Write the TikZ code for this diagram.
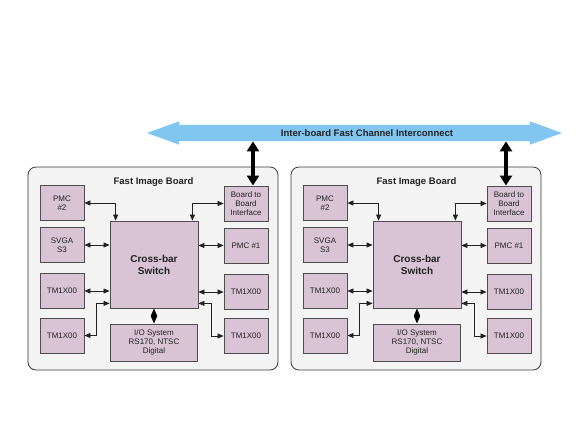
\documentclass[tikz,border=0pt]{standalone}
\usepackage{fontspec}
\setmainfont{Liberation Sans}
\usepackage{tikz}
\usetikzlibrary{arrows.meta,shapes.arrows}
\definecolor{boxfill}{HTML}{D8C4D4}
\definecolor{boardfill}{HTML}{F4F4F4}
\definecolor{busblue}{HTML}{80C6F0}
\definecolor{ink}{HTML}{222222}

\begin{document}
\begin{tikzpicture}[x=1pt,y=-1pt,
  unit/.style={draw=ink!80,fill=boxfill,line width=.8pt,minimum width=44pt,minimum height=35pt,
    inner sep=1pt,align=center,text=ink,font=\fontsize{8}{9}\selectfont},
  board/.style={draw=ink!90,fill=boardfill,line width=.8pt,rounded corners=8pt},
  title/.style={text=ink,font=\bfseries\fontsize{9.5}{11}\selectfont},
  link/.style={draw=ink,line width=.7pt,{Triangle[width=5pt,length=6pt]}-{Triangle[width=5pt,length=6pt]}},
  iolink/.style={draw=black,line width=1.5pt,{Triangle[width=6pt,length=7.5pt]}-{Triangle[width=6pt,length=7.5pt]}},
  dock/.style={draw=black,line width=3.5pt,{Triangle[width=12pt,length=10pt]}-{Triangle[width=12pt,length=10pt]}},
  bus/.style={double arrow,fill=busblue,minimum height=415pt,minimum width=23pt,
    double arrow head extend=3.5pt,double arrow tip angle=40,inner xsep=0pt,inner ysep=8pt}]

             \fill[white] (0,0) rectangle (576,432);
             \useasboundingbox (0,0) rectangle (576,432);

             \node[bus] (bus) at (354.5,133) {};
             \node[title] (busname) at (367,133) {Inter-board Fast Channel Interconnect};

             \foreach \b/\dx in {l/0,r/263}{
             \begin{scope}[xshift=\dx]
             \draw[board] (28,167) rectangle (278,370);
             \node[title] (title\b) at (153.5,182) {Fast Image Board};

             \node[unit] (pmcb\b) at (62,203) {PMC\\\#2};
             \node[unit] (svga\b) at (62,245) {SVGA\\S3};
             \node[unit] (tma\b) at (62,291) {TM1X00};
             \node[unit] (tmb\b) at (62,335.5) {TM1X00};

             \node[unit] (btb\b) at (246,203.5) {Board to\\Board\\Interface};
             \node[unit] (pmca\b) at (246,245.5) {PMC \#1};
             \node[unit] (tmc\b) at (246,292) {TM1X00};
             \node[unit] (tmd\b) at (246,336) {TM1X00};

             \node[unit,minimum width=88pt,minimum height=87pt,font=\bfseries\fontsize{10}{12}\selectfont]
                  (xbar\b) at (154,264.5) {Cross-bar\\Switch};
             \node[unit,minimum width=87pt,minimum height=37pt] (io\b) at (154,342.5) {I/O System\\RS170, NTSC\\Digital};

             \draw[link] (pmcb\b.east) -| ([xshift=6pt]xbar\b.north west);
             \draw[link] (btb\b.west) -| ([xshift=-6pt]xbar\b.north east);
             \draw[link] (svga\b.east) -- (svga\b.east -| xbar\b.west);
             \draw[link] (pmca\b.west) -- (pmca\b.west -| xbar\b.east);
             \draw[link] (tma\b.east) -- (tma\b.east -| xbar\b.west);
             \draw[link] (tmc\b.west) -- (tmc\b.west -| xbar\b.east);
             \draw[link] ([yshift=5pt]xbar\b.south west) -- ++(-13,0) |- (tmb\b.east);
             \draw[link] ([yshift=5pt]xbar\b.south east) -- ++(13,0) |- (tmd\b.west);
             \draw[iolink] (xbar\b.south) -- (io\b.north);
             \end{scope}
             }

             \coordinate (dockl) at (253,185.5);
             \coordinate (dockr) at (506,185.5);
             \draw[dock] (bus.south -| dockl) -- (dockl);
             \draw[dock] (bus.south -| dockr) -- (dockr);

             \end{tikzpicture}
\end{document}
